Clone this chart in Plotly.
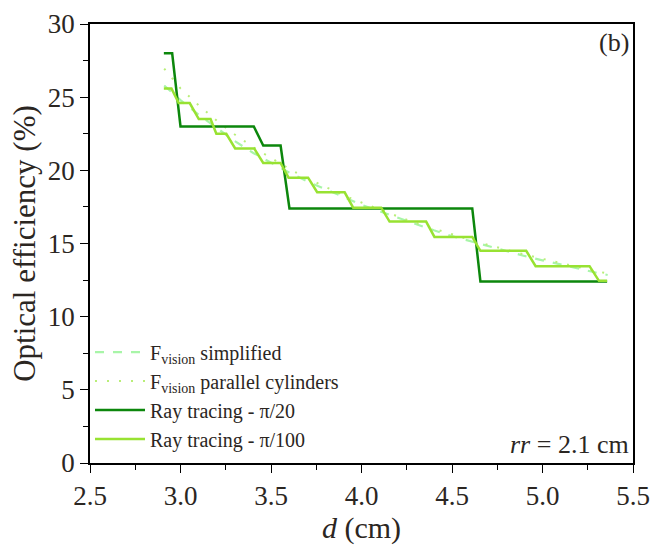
import plotly.graph_objects as go

# ---- data ----
d_rt20 = [2.908, 2.954, 3.000, 3.405, 3.457, 3.553, 3.602, 4.612, 4.657, 5.357]
eff_rt20 = [28.0, 28.0, 23.0, 23.0, 21.7, 21.7, 17.4, 17.4, 12.4, 12.4]

d_rt100 = [2.908, 2.950, 2.990, 3.051, 3.101, 3.166, 3.198, 3.253, 3.302, 3.407,
           3.457, 3.553, 3.597, 3.705, 3.755, 3.907, 3.954, 4.109, 4.155, 4.357,
           4.403, 4.612, 4.657, 4.910, 4.962, 5.260, 5.312, 5.357]
eff_rt100 = [25.6, 25.6, 24.6, 24.6, 23.5, 23.5, 22.5, 22.5, 21.5, 21.5,
             20.5, 20.5, 19.5, 19.5, 18.5, 18.5, 17.45, 17.45, 16.5, 16.5,
             15.45, 15.45, 14.5, 14.5, 13.45, 13.45, 12.45, 12.45]

d_fv = [2.91, 3.0, 3.1, 3.2, 3.3, 3.4, 3.5, 3.6, 3.7, 3.8, 3.9, 4.0, 4.1,
        4.2, 4.3, 4.4, 4.5, 4.6, 4.7, 4.8, 4.9, 5.0, 5.1, 5.2, 5.3, 5.36]
eff_simplified = [25.8, 24.8, 23.8, 22.9, 22.0, 21.2, 20.5, 19.85, 19.25, 18.7,
                  18.15, 17.65, 17.2, 16.75, 16.3, 15.9, 15.5, 15.15, 14.8, 14.45,
                  14.15, 13.85, 13.55, 13.3, 13.0, 12.85]
eff_parallel = [26.95, 25.6, 24.45, 23.4, 22.45, 21.6, 20.85, 20.1, 19.45, 18.85,
                18.3, 17.8, 17.3, 16.85, 16.4, 16.0, 15.6, 15.25, 14.9, 14.55,
                14.25, 13.95, 13.65, 13.4, 13.1, 12.95]

x_ticks = [2.5, 3.0, 3.5, 4.0, 4.5, 5.0, 5.5]
x_ticklabels = ["2.5", "3.0", "3.5", "4.0", "4.5", "5.0", "5.5"]
y_ticks = [0, 5, 10, 15, 20, 25, 30]

FONT = "Liberation Serif"
TXT = "#2b2622"

fig = go.Figure()
fig.add_trace(go.Scatter(x=d_fv, y=eff_simplified, mode="lines",
                         name="F<sub>vision</sub> simplified",
                         line=dict(color="#a8f5a8", width=2.2, dash="9px,9px")))
fig.add_trace(go.Scatter(x=d_fv, y=eff_parallel, mode="lines",
                         name="F<sub>vision</sub> parallel cylinders",
                         line=dict(color="#b9ee78", width=2, dash="2px,10px")))
fig.add_trace(go.Scatter(x=d_rt20, y=eff_rt20, mode="lines",
                         name="Ray tracing - π/20",
                         line=dict(color="#0c870c", width=2.5)))
fig.add_trace(go.Scatter(x=d_rt100, y=eff_rt100, mode="lines",
                         name="Ray tracing - π/100",
                         line=dict(color="#98e232", width=2.5)))

axis_common = dict(showline=True, linecolor="black", linewidth=1.5, mirror=True,
                   showgrid=False, zeroline=False, ticks="outside", ticklen=8,
                   tickwidth=1.3, tickcolor="black", automargin=False,
                   tickfont=dict(family=FONT, size=27, color=TXT))

fig.update_xaxes(range=[2.5, 5.5], tickvals=x_ticks, ticktext=x_ticklabels,
                 minor=dict(ticks="outside", ticklen=5, tickwidth=1.3,
                            tickcolor="black", dtick=0.25),
                 title=dict(text="<i>d</i> (cm)", font=dict(family=FONT, size=30, color=TXT),
                            standoff=6),
                 **axis_common)
fig.update_yaxes(range=[0, 30], tickvals=y_ticks,
                 minor=dict(ticks="outside", ticklen=5, tickwidth=1.3,
                            tickcolor="black", dtick=2.5),
                 title=dict(text="Optical efficiency (%)",
                            font=dict(family=FONT, size=31, color=TXT), standoff=3),
                 **axis_common)

fig.add_annotation(x=0.997, y=0.995, xref="paper", yref="paper", xanchor="right",
                   yanchor="top", showarrow=False, text="(b)",
                   font=dict(family=FONT, size=26, color=TXT))
fig.add_annotation(x=0.997, y=0.005, xref="paper", yref="paper", xanchor="right",
                   yanchor="bottom", showarrow=False, text="<i>rr</i> = 2.1 cm",
                   font=dict(family=FONT, size=26, color=TXT))

fig.update_layout(
    width=651, height=547,
    margin=dict(l=90, r=18, t=24, b=84),
    plot_bgcolor="white", paper_bgcolor="white",
    font=dict(family=FONT, color=TXT),
    legend=dict(x=0.0, y=0.01, xanchor="left", yanchor="bottom",
                bgcolor="rgba(0,0,0,0)", font=dict(family=FONT, size=20, color=TXT),
                tracegroupgap=0, itemwidth=50),
)

fig.write_html("out.html")
